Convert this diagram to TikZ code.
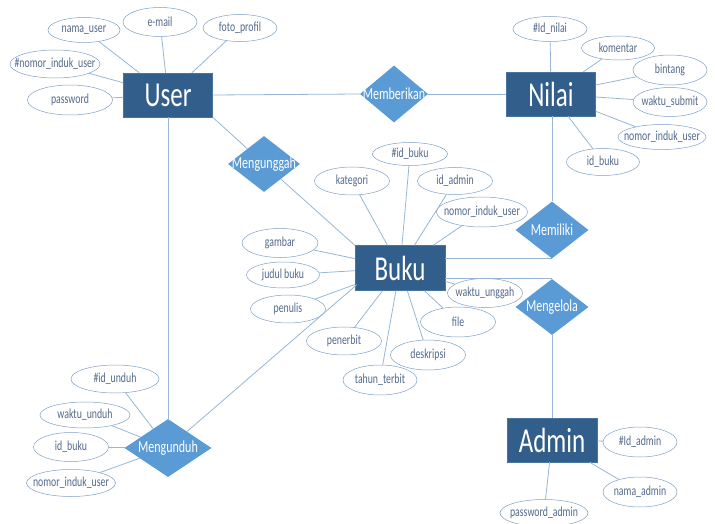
\documentclass[tikz,border=0pt]{standalone}
\usepackage{fontspec}
\setmainfont{Carlito}
\usetikzlibrary{shapes.geometric,calc}
\definecolor{entfill}{RGB}{49,94,138}
\definecolor{entline}{RGB}{70,118,160}
\definecolor{relfill}{RGB}{91,155,213}
\definecolor{attline}{RGB}{127,160,198}
\definecolor{atttext}{RGB}{84,106,138}
\definecolor{connc}{RGB}{150,181,215}
\newcommand{\vtall}[1]{\scalebox{1}[1.4]{#1}}
\newcommand{\rtext}[1]{\makebox[0pt]{\vtall{#1}}}
\begin{document}
\begin{tikzpicture}[x=1pt,y=-1pt,
 entity/.style={rectangle,fill=entfill,draw=entline,line width=0.5pt,text=white,minimum width=89pt,minimum height=44pt,inner sep=0pt,font=\fontsize{25}{25}\selectfont},
 rel/.style={diamond,fill=relfill,draw=none,text=white,inner sep=0pt,font=\fontsize{12}{12}\selectfont},
 attr/.style={ellipse,fill=white,draw=attline,line width=0.5pt,text=atttext,inner sep=0pt,minimum width=75pt,minimum height=28pt,font=\fontsize{9.8}{10}\selectfont},
 link/.style={draw=connc,line width=0.8pt}]
\useasboundingbox (0,0) rectangle (715,524);

% entities
\node[entity] (user) at (168,95) {\vtall{User}};
\node[entity] (nilai) at (551,94) {\vtall{Nilai}};
\node[entity,minimum width=90pt,minimum height=45pt] (buku) at (400,268) {\vtall{Buku}};
\node[entity,minimum width=90pt] (admin) at (552,440) {\vtall{Admin}};

% relationships
\node[rel,minimum width=68pt,minimum height=57pt] (memberikan) at (394,94) {\rtext{Memberikan}};
\node[rel,minimum width=72pt,minimum height=56pt] (mengunggah) at (264,164) {\rtext{Mengunggah}};
\node[rel,minimum width=73pt,minimum height=57pt] (memiliki) at (552,230) {\rtext{Memiliki}};
\node[rel,minimum width=73pt,minimum height=56pt] (mengelola) at (552,307) {\rtext{Mengelola}};
\node[rel,minimum width=87pt,minimum height=58pt] (mengunduh) at (168,448) {\rtext{Mengunduh}};

% User attributes
\node[attr,minimum width=72pt,minimum height=25pt] (u1) at (84,30) {\rtext{nama\_user}};
\node[attr,minimum width=74pt,minimum height=29pt] (u2) at (160,22) {\rtext{e-mail}};
\node[attr,minimum width=74pt,minimum height=27pt] (u3) at (240,28) {\rtext{foto\_profil}};
\node[attr,minimum width=90pt,minimum height=28pt] (u4) at (55,64) {\rtext{\#nomor\_induk\_user}};
\node[attr,minimum width=85pt,minimum height=30pt] (u5) at (70,100) {\rtext{password}};

% Nilai attributes
\node[attr,minimum width=74pt,minimum height=25pt] (n1) at (550,29) {\rtext{\#Id\_nilai}};
\node[attr,minimum width=73pt,minimum height=24pt] (n2) at (618,48) {\rtext{komentar}};
\node[attr,minimum width=74pt,minimum height=30pt] (n3) at (670,70) {\rtext{bintang}};
\node[attr,minimum width=74pt,minimum height=29pt] (n4) at (670,102) {\rtext{waktu\_submit}};
\node[attr,minimum width=88pt,minimum height=25pt] (n5) at (662,137) {\rtext{nomor\_induk\_user}};
\node[attr,minimum width=73pt,minimum height=27pt] (n6) at (603,162) {\rtext{id\_buku}};

% Buku attributes
\node[attr,minimum width=75pt,minimum height=23pt] (b1) at (410,154) {\rtext{\#id\_buku}};
\node[attr] (b2) at (352,181) {\rtext{kategori}};
\node[attr,minimum height=27pt] (b3) at (455,181) {\rtext{id\_admin}};
\node[attr,minimum width=91pt,minimum height=30pt] (b4) at (482,212) {\rtext{nomor\_induk\_user}};
\node[attr,minimum width=76pt,minimum height=29pt] (b5) at (280,243) {\rtext{gambar}};
\node[attr,minimum width=73pt,minimum height=26pt] (b6) at (283,275) {\rtext{judul buku}};
\node[attr] (b7) at (288,309) {\rtext{penulis}};
\node[attr] (b8) at (344,341) {\rtext{penerbit}};
\node[attr,minimum width=74pt,minimum height=30pt] (b9) at (380,380) {\rtext{tahun\_terbit}};
\node[attr,minimum height=30pt] (b10) at (428,355) {\rtext{deskripsi}};
\node[attr,minimum height=30pt] (b11) at (458,322) {\rtext{file}};
\node[attr,minimum height=29pt] (b12) at (485,293) {\rtext{waktu\_unggah}};

% Mengunduh attributes
\node[attr,minimum width=88pt,minimum height=28pt] (d1) at (115,379) {\rtext{\#id\_unduh}};
\node[attr,minimum width=90pt,minimum height=26pt] (d2) at (85,415) {\rtext{waktu\_unduh}};
\node[attr,minimum width=75pt,minimum height=29pt] (d3) at (71,447) {\rtext{id\_buku}};
\node[attr,minimum width=89pt,minimum height=27pt] (d4) at (71,483) {\rtext{nomor\_induk\_user}};

% Admin attributes
\node[attr,minimum width=74pt,minimum height=30pt] (a1) at (640,442) {\rtext{\#Id\_admin}};
\node[attr,minimum width=74pt,minimum height=30pt] (a2) at (640,492) {\rtext{nama\_admin}};
\node[attr,minimum width=88pt,minimum height=27pt] (a3) at (544,513) {\rtext{password\_admin}};

% relationship links
\draw[link] (user.east) -- (memberikan.west);
\draw[link] (memberikan.east) -- (nilai.west);
\draw[link] (user.south east) -- (mengunggah);
\draw[link] (mengunggah) -- (buku.north west);
\draw[link] (user.south) -- (mengunduh.north);
\draw[link] (mengunduh) -- ($(buku.south west)+(2,-6)$);
\draw[link] (nilai.south -| memiliki.north) -- (memiliki.north);
\draw[link] (memiliki.south) -- (memiliki.south -| buku.east);
\draw[link] (mengelola.north) -- (mengelola.north -| buku.east);
\draw[link] (mengelola.south) -- (admin.north -| mengelola.south);

% attribute links
\foreach \a in {u1,u2,u3,u4,u5} \draw[link] (\a) -- (user);
\foreach \a in {n1,n2,n3,n4,n5,n6} \draw[link] (\a) -- (nilai);
\foreach \a in {b1,b2,b3,b4,b5,b6,b7,b8,b9,b10,b11,b12} \draw[link] (\a) -- (buku);
\foreach \a in {d1,d2,d3,d4} \draw[link] (\a) -- (mengunduh);
\foreach \a in {a1,a2,a3} \draw[link] (\a) -- (admin);
\end{tikzpicture}
\end{document}
